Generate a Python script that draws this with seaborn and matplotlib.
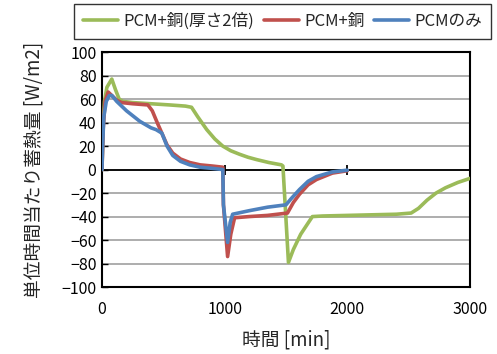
import matplotlib
matplotlib.use("Agg")
import matplotlib.pyplot as plt
import seaborn as sns
import pandas as pd

# ---- data ----
series_names = ["PCM+銅(厚さ2倍)", "PCM+銅", "PCMのみ"]
colors = ["#9BBB59", "#C0504D", "#4F81BD"]

green_t = [0, 8, 20, 40, 80, 110, 140, 170, 250, 400, 550, 680, 730, 780, 854, 920, 984,
           1050, 1122, 1190, 1260, 1360, 1463, 1475, 1520, 1560, 1620, 1715, 1800, 2000,
           2200, 2400, 2520, 2580, 2650, 2723, 2800, 2900, 3000]
green_v = [0, 35, 58, 70, 77, 68, 60, 58, 57, 56, 55, 54, 53, 45, 34, 26, 20,
           16, 13, 10.5, 8.5, 6, 4, 3, -79, -68, -55, -40, -39.5, -39,
           -38.5, -38, -37, -33, -26, -20, -15.5, -11, -7.5]

red_t = [0, 10, 25, 50, 80, 120, 160, 250, 374, 410, 450, 488, 530, 577, 640, 715, 800,
         900, 985, 990, 1024, 1050, 1081, 1200, 1350, 1512, 1560, 1610, 1680, 1748, 1878, 2000]
red_v = [0, 35, 58, 66, 63, 59, 57, 56, 55, 50, 40, 31, 21, 14, 9, 6, 4,
         3, 2, -30, -74, -55, -41, -40, -39, -37, -28, -21, -13, -8.5, -3, -1]

blue_t = [0, 5, 15, 35, 60, 81, 120, 200, 309, 400, 440, 488, 530, 577, 640, 715, 800,
          900, 985, 990, 1024, 1045, 1065, 1200, 1350, 1500, 1540, 1610, 1680, 1748, 1878, 2000]
blue_v = [0, 20, 45, 58, 63, 63, 58, 50, 41, 35.5, 34, 31, 20, 12, 7, 4, 2,
          1, 0, -30, -62, -45, -38, -35, -32, -30, -25, -17, -10, -6, -2, -0.5]

x_ticks = [0, 1000, 2000, 3000]
y_ticks = list(range(-100, 101, 20))
x_label = "時間 [min]"
y_label = "単位時間当たり蓄熱量 [W/m2]"

frames = []
for name, t, v in zip(series_names, [green_t, red_t, blue_t], [green_v, red_v, blue_v]):
    frames.append(pd.DataFrame({"time": t, "value": v, "series": name}))
df = pd.concat(frames, ignore_index=True)

# ---- style ----
sns.set_theme(style="white")
plt.rcParams["font.family"] = ["Noto Sans CJK JP", "DejaVu Sans"]

fig = plt.figure(figsize=(4.97, 3.54), dpi=100)
ax = fig.add_axes([0.2052, 0.189, 0.7405, 0.664])

for y in y_ticks:
    ax.axhline(y, color="#A0A0A0", lw=1.2, zorder=0)
ax.axhline(0, color="black", lw=1.3, zorder=1)
ax.plot(x_ticks[1:3], [0, 0], ls="none", marker="|", color="black", ms=7, mew=1.3, zorder=1)

sns.lineplot(data=df, x="time", y="value", hue="series", hue_order=series_names,
             palette=colors, sort=False, estimator=None, lw=2.6, ax=ax, zorder=3)

ax.set_xlim(0, 3000)
ax.set_ylim(-100, 100)
ax.set_xticks(x_ticks)
ax.set_yticks(y_ticks)
ax.tick_params(axis="both", labelsize=11.5, colors="black")
ax.tick_params(axis="x", length=0, pad=10)
ax.tick_params(axis="y", direction="in", length=4, width=1, left=True, pad=4)
for s in ax.spines.values():
    s.set_color("black")
    s.set_linewidth(1.5)

ax.set_xlabel(x_label, fontsize=13.5, labelpad=8)
ax.set_ylabel(y_label, fontsize=13.5, labelpad=12)

leg = ax.legend(loc="upper left", bbox_to_anchor=(0.149, 0.99), bbox_transform=fig.transFigure,
                ncol=3, frameon=True, fancybox=False, fontsize=12, handlelength=2.1,
                columnspacing=0.6, handletextpad=0.3, borderpad=0.55, borderaxespad=0)
leg.get_frame().set_edgecolor("black")
leg.get_frame().set_linewidth(1.0)
for h in leg.get_lines():
    h.set_linewidth(2.6)

fig.savefig("out.png", dpi=100)
